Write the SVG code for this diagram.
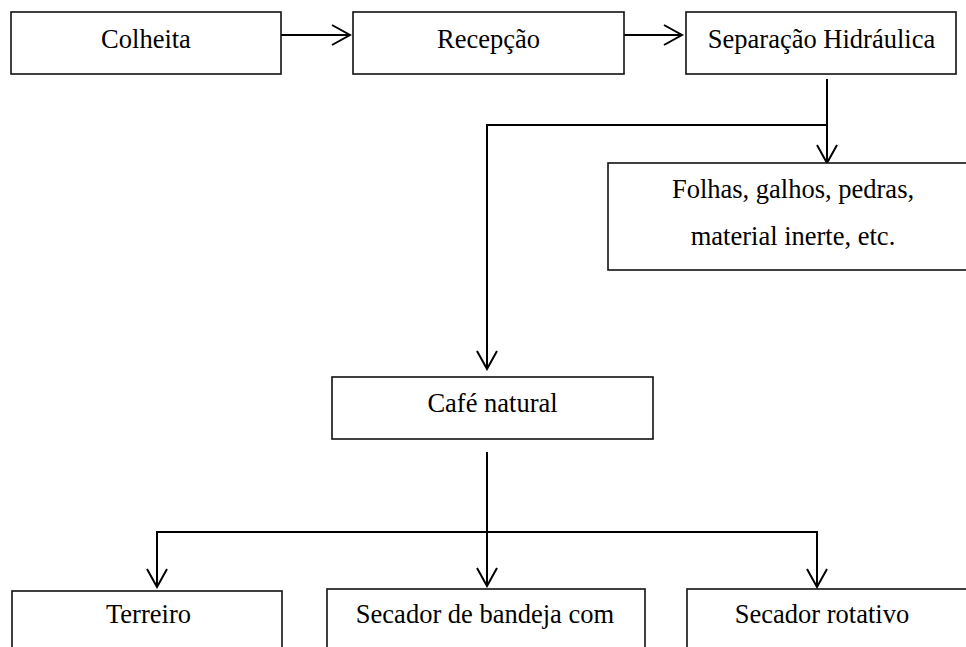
<svg xmlns="http://www.w3.org/2000/svg" width="966" height="647" viewBox="0 0 966 647">
<style>
.box{fill:#fff;stroke:#111;stroke-width:1.6}
.t{font-family:"Liberation Serif","Times New Roman",serif;font-size:26.5px;fill:#000;text-anchor:middle}
.c{fill:none;stroke:#000;stroke-width:2}
</style>
<defs>
<marker id="ah" viewBox="-20 -12 22 24" refX="0" refY="0" markerWidth="22" markerHeight="24" markerUnits="userSpaceOnUse" orient="auto">
<path d="M-18,-10 L0,0 L-18,10" fill="none" stroke="#000" stroke-width="2"/>
</marker>
</defs>
<rect width="966" height="647" fill="#fff"/>
<g id="connectors">
<line class="c" x1="281" y1="35" x2="350" y2="35" marker-end="url(#ah)"/>
<line class="c" x1="624" y1="35" x2="682" y2="35" marker-end="url(#ah)"/>
<line class="c" x1="827" y1="79" x2="827" y2="163" marker-end="url(#ah)"/>
<polyline class="c" points="827,125 487,125 487,369" marker-end="url(#ah)"/>
<line class="c" x1="487" y1="452" x2="487" y2="586" marker-end="url(#ah)"/>
<line class="c" x1="157" y1="532" x2="817" y2="532"/>
<line class="c" x1="157" y1="531" x2="157" y2="587" marker-end="url(#ah)"/>
<line class="c" x1="817" y1="531" x2="817" y2="587" marker-end="url(#ah)"/>
</g>
<g id="colheita"><rect class="box" x="11" y="12" width="270" height="62"/><text class="t" x="146" y="48">Colheita</text></g>
<g id="recepcao"><rect class="box" x="353" y="12" width="271" height="62"/><text class="t" x="488.5" y="48">Recepção</text></g>
<g id="separacao"><rect class="box" x="686" y="12" width="270" height="62"/><text class="t" x="821.5" y="48">Separação Hidráulica</text></g>
<g id="folhas"><rect class="box" x="608" y="163" width="370" height="107"/><text class="t" x="793" y="198">Folhas, galhos, pedras,</text><text class="t" x="793" y="245">material inerte, etc.</text></g>
<g id="cafe"><rect class="box" x="332" y="377" width="321" height="62"/><text class="t" x="492.5" y="412">Café natural</text></g>
<g id="terreiro"><rect class="box" x="12" y="591" width="270" height="80"/><text class="t" x="148.5" y="623">Terreiro</text></g>
<g id="bandeja"><rect class="box" x="327" y="589" width="318" height="80"/><text class="t" x="485" y="623">Secador de bandeja com</text></g>
<g id="rotativo"><rect class="box" x="687" y="589" width="290" height="80"/><text class="t" x="822" y="623">Secador rotativo</text></g>
</svg>
